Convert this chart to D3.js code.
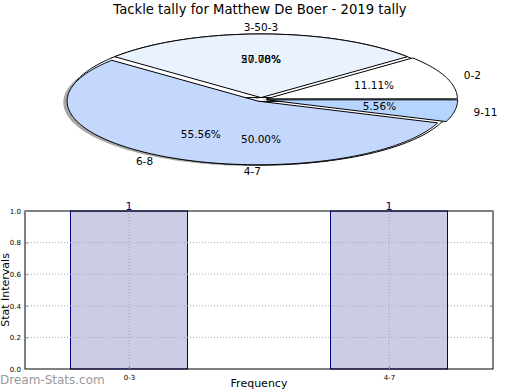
<!DOCTYPE html>
<html><head><meta charset="utf-8">
<script src="https://cdn.jsdelivr.net/npm/d3@7"></script>
<style>body{margin:0;background:#fff}svg{display:block;font-family:"DejaVu Sans",sans-serif}</style>
</head><body><svg id="c" width="520" height="390"></svg>
<script>
const title = "Tackle tally for Matthew De Boer - 2019 tally";
// pie 1 (tackle ranges)
const pie1Labels = ["0-2", "3-5", "6-8", "9-11"];
const pie1Values = [2, 5, 10, 1];
const pie1Colors = ["#ffffff", "#eaf2fe", "#c4d8fe", "#b5d5ff"];
// pie 2 (overlaid second pie)
const pie2Labels = ["0-3", "4-7"];
const pie2Values = [1, 1];
// bar chart
const barCats = ["0-3", "4-7"];
const barValues = [1, 1];
const yTicks = [0, 0.2, 0.4, 0.6, 0.8, 1.0];

const svg = d3.select("#c");
svg.append("text").attr("x", 260).attr("y", 14).attr("text-anchor", "middle")
  .attr("font-size", 13.2).text(title);

// ---- pie ----
const cx = 261, cy = 99.5, rx = 191, ry = 63.6, explode = 0.03;
const sx = d3.scaleLinear().domain([-1, 1]).range([cx - rx, cx + rx]);
const sy = d3.scaleLinear().domain([-1, 1]).range([cy + ry, cy - ry]);
const TAU = Math.PI * 2;
function wedgePath(ox, oy, t1, t2) {
  const p = d3.path();
  p.moveTo(sx(ox), sy(oy));
  const n = Math.max(2, Math.ceil((t2 - t1) / 0.02));
  for (let i = 0; i <= n; i++) {
    const t = t1 + (t2 - t1) * i / n;
    p.lineTo(sx(ox + Math.cos(t)), sy(oy + Math.sin(t)));
  }
  p.closePath();
  return p.toString();
}
function layout(values) {
  const sum = d3.sum(values);
  let th1 = 0;
  return values.map((v, i) => {
    const th2 = th1 + v / sum;
    const tm = TAU * 0.5 * (th1 + th2);
    const ox = explode * Math.cos(tm), oy = explode * Math.sin(tm);
    const r = {t1: TAU * th1, t2: TAU * th2, tm, ox, oy, frac: v / sum, i};
    th1 = th2;
    return r;
  });
}
const L1 = layout(pie1Values);
const L2 = layout(pie2Values);
const gp = svg.append("g");
gp.selectAll("path.sh").data(L1).join("path").attr("class", "sh")
  .attr("d", d => wedgePath(d.ox - 0.02, d.oy - 0.02, d.t1, d.t2))
  .attr("fill", "#000").attr("fill-opacity", 0.35).attr("stroke", "none");
gp.selectAll("path.p2").data(L2).join("path").attr("class", "p2")
  .attr("d", d => wedgePath(d.ox, d.oy, d.t1, d.t2))
  .attr("fill", "#ffffff").attr("stroke", "#000").attr("stroke-width", 1);
gp.selectAll("path.p1").data(L1).join("path").attr("class", "p1")
  .attr("d", d => wedgePath(d.ox, d.oy, d.t1, d.t2))
  .attr("fill", (d, i) => pie1Colors[i]).attr("stroke", "#000").attr("stroke-width", 1);

function anchorFor(xv, pieIdx) {
  if (Math.abs(xv) < 1e-9) return pieIdx === 0 ? "end" : (xv > 0 ? "start" : "end");
  return xv > 0 ? "start" : "end";
}
function addTexts(L, labels, pieIdx) {
  L.forEach((d, i) => {
    const lx = d.ox + 1.1 * Math.cos(d.tm), ly = d.oy + 1.1 * Math.sin(d.tm);
    svg.append("text").attr("x", sx(lx)).attr("y", sy(ly)).attr("dy", "0.35em")
      .attr("text-anchor", anchorFor(Math.cos(d.tm), pieIdx))
      .attr("font-size", 10.5).text(labels[i]);
    const px = d.ox + 0.6 * Math.cos(d.tm), py = d.oy + 0.6 * Math.sin(d.tm);
    svg.append("text").attr("x", sx(px)).attr("y", sy(py)).attr("dy", "0.35em")
      .attr("text-anchor", "middle").attr("font-size", 10.5)
      .text((d.frac * 100).toFixed(2) + "%");
  });
}
addTexts(L1, pie1Labels, 0);
addTexts(L2, pie2Labels, 1);

// ---- bar chart ----
const bLeft = 25, bRight = 493, bTop = 211, bBottom = 369;
const x = d3.scaleLinear().domain([-0.4, 1.4]).range([bLeft, bRight]);
const y = d3.scaleLinear().domain([0, 1]).range([bBottom, bTop]);
const bw = 0.45;
const gb = svg.append("g");
gb.selectAll("rect.bar").data(barValues).join("rect").attr("class", "bar")
  .attr("x", (d, i) => x(i - bw / 2)).attr("width", x(bw) - x(0))
  .attr("y", d => y(d)).attr("height", d => y(0) - y(d))
  .attr("fill", "#ccccE6").attr("stroke", "#000080").attr("stroke-width", 1);
gb.selectAll("line.hg").data(yTicks.slice(1, -1)).join("line").attr("class", "hg")
  .attr("x1", bLeft).attr("x2", bRight).attr("y1", d => y(d)).attr("y2", d => y(d))
  .attr("stroke", "#aaa").attr("stroke-dasharray", "1,2");
gb.selectAll("line.vg").data(barCats).join("line").attr("class", "vg")
  .attr("x1", (d, i) => x(i)).attr("x2", (d, i) => x(i)).attr("y1", bTop).attr("y2", bBottom)
  .attr("stroke", "#aaa").attr("stroke-dasharray", "1,2");
gb.append("rect").attr("x", bLeft).attr("y", bTop).attr("width", bRight - bLeft).attr("height", bBottom - bTop)
  .attr("fill", "none").attr("stroke", "#000").attr("stroke-width", 1);
const ya = d3.axisLeft(y).tickValues(yTicks).tickFormat(d3.format(".1f")).tickSize(-3).tickPadding(4);
const yg = gb.append("g").attr("transform", `translate(${bLeft},0)`).call(ya);
yg.select(".domain").remove();
yg.selectAll("text").attr("font-size", 7).attr("font-family", "DejaVu Sans");
yg.selectAll("line").attr("stroke", "#888");
const ya2 = d3.axisRight(y).tickValues(yTicks).tickFormat("").tickSize(-3);
const yg2 = gb.append("g").attr("transform", `translate(${bRight},0)`).call(ya2);
yg2.select(".domain").remove(); yg2.selectAll("line").attr("stroke", "#888");
const xa = d3.axisBottom(x).tickValues(barCats.map((d, i) => i)).tickFormat((d) => barCats[d]).tickSize(-3).tickPadding(6);
const xg = gb.append("g").attr("transform", `translate(0,${bBottom})`).call(xa);
xg.select(".domain").remove();
xg.selectAll("text").attr("font-size", 7).attr("font-family", "DejaVu Sans");
xg.selectAll("line").attr("stroke", "#888");
gb.selectAll("text.v").data(barValues).join("text").attr("class", "v")
  .attr("x", (d, i) => x(i)).attr("y", d => y(d) - 1)
  .attr("text-anchor", "middle").attr("font-size", 11).attr("fill", "#000080").text(d => d);
svg.append("text").attr("transform", `translate(9,290) rotate(-90)`).attr("text-anchor", "middle")
  .attr("font-size", 11).text("Stat Intervals");
svg.append("text").attr("x", 259).attr("y", 387).attr("text-anchor", "middle")
  .attr("font-size", 11).text("Frequency");
svg.append("text").attr("x", 0).attr("y", 384).attr("font-size", 12)
  .attr("fill", "#999999").text("Dream-Stats.com");
</script></body></html>
